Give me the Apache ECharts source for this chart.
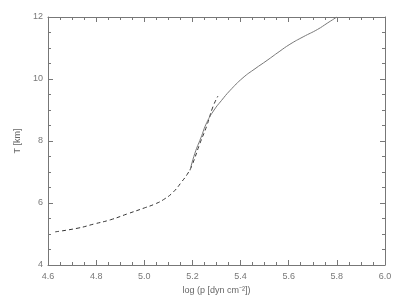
<!DOCTYPE html>
<html><head><meta charset="utf-8">
<script src="https://cdn.jsdelivr.net/npm/echarts@6/dist/echarts.min.js"></script>
<style>html,body{margin:0;padding:0;background:#fff}#c{width:400px;height:300px}</style>
</head><body><div id="c"></div>
<script>
const xTicks = [4.6, 4.8, 5.0, 5.2, 5.4, 5.6, 5.8, 6.0];
const yTicks = [4, 6, 8, 10, 12];
const dashedX = [4.63, 4.725, 4.79, 4.86, 4.93, 5.0, 5.045, 5.08, 5.12, 5.155, 5.182, 5.2, 5.23, 5.26, 5.285, 5.306];
const dashedY = [5.07, 5.19, 5.32, 5.46, 5.65, 5.84, 5.97, 6.11, 6.35, 6.68, 6.97, 7.25, 7.9, 8.5, 9.1, 9.45];
const solidX = [5.19, 5.21, 5.235, 5.26, 5.29, 5.32, 5.355, 5.41, 5.46, 5.51, 5.56, 5.605, 5.66, 5.72, 5.76, 5.80];
const solidY = [7.05, 7.6, 8.1, 8.6, 9.0, 9.3, 9.62, 10.04, 10.33, 10.6, 10.88, 11.12, 11.36, 11.6, 11.8, 12.0];

const axisCol = '#777';
const font = 'Liberation Sans, Arial, sans-serif';
function xAx(pos, show) {
  return {
    type: 'value', position: pos, min: 4.6, max: 6.0, interval: 0.2,
    axisLine: {show: true, onZero: false, lineStyle: {color: axisCol, width: 1}},
    axisTick: {show: true, inside: true, length: 5, lineStyle: {color: axisCol}},
    minorTick: {show: true, splitNumber: 4, length: 3, lineStyle: {color: axisCol}},
    splitLine: {show: false},
    axisLabel: {show: show, color: '#777', fontSize: 9, fontFamily: font, margin: 7,
      formatter: v => v.toFixed(1)},
    name: show ? 'log (p [dyn cm⁻²])' : '', nameLocation: 'middle', nameGap: 20,
    nameTextStyle: {color: '#666', fontSize: 9, fontFamily: font}
  };
}
function yAx(pos, show) {
  return {
    type: 'value', position: pos, min: 4, max: 12, interval: 2,
    axisLine: {show: true, onZero: false, lineStyle: {color: axisCol, width: 1}},
    axisTick: {show: true, inside: true, length: 5, lineStyle: {color: axisCol}},
    minorTick: {show: true, splitNumber: 4, length: 3, lineStyle: {color: axisCol}},
    splitLine: {show: false},
    axisLabel: {show: show, color: '#777', fontSize: 9, fontFamily: font, margin: 5},
    name: show ? 'T [km]' : '', nameLocation: 'middle', nameGap: 14, nameRotate: 90,
    nameTextStyle: {color: '#666', fontSize: 9, fontFamily: font}
  };
}
const chart = echarts.init(document.getElementById('c'), null, {renderer: 'canvas'});
chart.setOption({
  animation: false,
  grid: {left: 48, right: 15, top: 17, bottom: 35},
  xAxis: [xAx('bottom', true), xAx('top', false)],
  yAxis: [yAx('left', true), yAx('right', false)],
  series: [
    {type: 'line', data: dashedX.map((x, i) => [x, dashedY[i]]), showSymbol: false, smooth: true,
      lineStyle: {color: '#333', width: 1, type: [4, 3]}},
    {type: 'line', data: solidX.map((x, i) => [x, solidY[i]]), showSymbol: false, smooth: true,
      lineStyle: {color: '#777', width: 1}}
  ]
});
</script></body></html>
